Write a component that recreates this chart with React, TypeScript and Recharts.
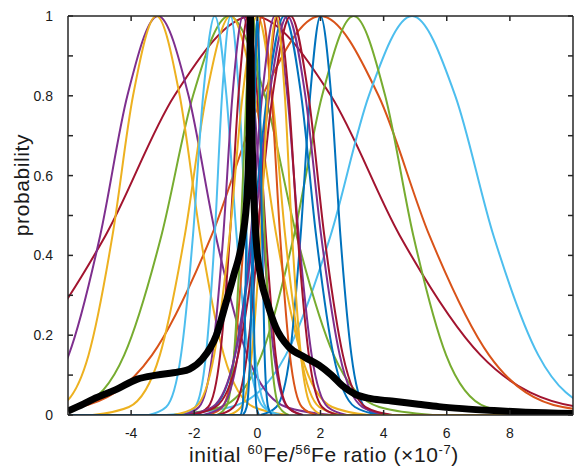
import { LineChart, Line, XAxis, YAxis } from "recharts"

// probability levels at which each curve is sampled (left tail -> peak -> right tail)
const levels = [0, 0.02, 0.15, 0.45, 0.8, 1, 0.8, 0.45, 0.15, 0.02, 0]

// x positions (x10^-7) where each curve crosses the levels above
const purpleLeft = [-8.66, -7.21, -5.98, -4.98, -4.12, -3.15, -2.18, -1.32, -0.32, 0.91, 2.36]
const goldLeft = [-7.38, -6.28, -5.35, -4.59, -3.94, -3.2, -2.46, -1.81, -1.06, -0.12, 0.98]
const redWide = [-14.21, -10.51, -7.37, -4.81, -2.63, -0.15, 2.33, 4.51, 7.07, 10.21, 13.91]
const greenWide = [-7.36, -5.66, -4.22, -3.04, -2.04, -0.9, 0.24, 1.24, 2.42, 3.86, 5.56]
const orangeWide = [-8.41, -5.67, -3.34, -1.45, 0.16, 2.0, 3.84, 5.45, 7.34, 9.67, 12.41]
const greenRight = [-2.65, -1.15, 0.13, 1.16, 2.05, 3.05, 4.05, 4.94, 5.98, 7.25, 8.75]
const skyRight = [-2.89, -0.84, 0.9, 2.32, 3.53, 4.9, 6.27, 7.48, 8.9, 10.64, 12.69]
const goldMid = [-5.22, -4.07, -3.09, -2.3, -1.62, -0.85, -0.08, 0.6, 1.39, 2.37, 3.52]
const blueTwo = [0.1, 0.6, 1.03, 1.37, 1.67, 2.0, 2.34, 2.63, 2.98, 3.4, 3.9]
const skyA = [-3.44, -2.89, -2.42, -2.04, -1.72, -1.35, -0.98, -0.66, -0.28, 0.19, 0.74]
const skyB = [-2.37, -1.97, -1.63, -1.35, -1.12, -0.85, -0.58, -0.35, -0.07, 0.27, 0.67]
const purpleA = [-2.35, -1.85, -1.43, -1.08, -0.79, -0.45, -0.12, 0.18, 0.53, 0.95, 1.45]
const redA = [-2.01, -1.56, -1.18, -0.87, -0.6, -0.3, 0.0, 0.27, 0.58, 0.96, 1.41]
const goldZero = [-2.66, -1.96, -1.37, -0.88, -0.47, 0, 0.47, 0.88, 1.37, 1.96, 2.66]
const orangeA = [-1.56, -1.11, -0.73, -0.42, -0.15, 0.15, 0.45, 0.72, 1.03, 1.41, 1.86]
const greenA = [-1.29, -0.99, -0.74, -0.53, -0.35, -0.15, 0.05, 0.23, 0.44, 0.69, 0.99]
const purpleB = [-1.73, -1.13, -0.62, -0.21, 0.15, 0.55, 0.95, 1.31, 1.72, 2.23, 2.83]
const redB = [-1.25, -0.75, -0.33, 0.02, 0.32, 0.65, 0.99, 1.28, 1.63, 2.05, 2.55]
const blueB = [-2.19, -1.39, -0.71, -0.16, 0.31, 0.85, 1.39, 1.86, 2.41, 3.09, 3.89]
const purpleC = [-2.28, -1.43, -0.71, -0.12, 0.38, 0.95, 1.52, 2.02, 2.61, 3.33, 4.18]
const redC = [-2.18, -1.33, -0.61, -0.02, 0.48, 1.05, 1.62, 2.12, 2.71, 3.43, 4.28]
const goldB = [-0.92, -0.52, -0.18, 0.1, 0.33, 0.6, 0.87, 1.1, 1.38, 1.72, 2.12]
const blueSpike = [-0.55, -0.47, -0.41, -0.35, -0.3, -0.25, -0.2, -0.15, -0.09, -0.03, 0.05]
const blueZero = [-0.46, -0.34, -0.23, -0.15, -0.08, 0, 0.08, 0.15, 0.23, 0.34, 0.46]

// combined distribution (thick black)
const sumX = [-6, -5.5, -5.2, -4.5, -3.8, -3.2, -2.5, -2.15, -1.75, -1.3, -1.0, -0.75, -0.48, -0.32, -0.25, -0.22, -0.18, -0.12, -0.04, 0.12, 0.32, 0.58, 1.0, 1.5, 1.95, 2.35, 2.7, 3.1, 3.6, 4.25, 5.1, 5.75, 6.5, 7.5, 8.5, 10]
const sumY = [0.01, 0.028, 0.04, 0.063, 0.09, 0.1, 0.108, 0.115, 0.14, 0.2, 0.28, 0.35, 0.44, 0.56, 0.75, 1.0, 0.75, 0.56, 0.44, 0.34, 0.28, 0.22, 0.17, 0.145, 0.125, 0.1, 0.073, 0.052, 0.041, 0.035, 0.027, 0.021, 0.016, 0.011, 0.007, 0.004]

const xTicks = [-4, -2, 0, 2, 4, 6, 8]
const yTicks = [0, 0.1, 0.2, 0.3, 0.4, 0.5, 0.6, 0.7, 0.8, 0.9, 1]
const yLabels = ["0", "", "0.2", "", "0.4", "", "0.6", "", "0.8", "", "1"]

const BLUE = "#0072BD"
const ORANGE = "#D95319"
const GOLD = "#EDB120"
const PURPLE = "#7E2F8E"
const GREEN = "#77AC30"
const SKY = "#4DBEEE"
const RED = "#A2142F"

const curves = [
  { xs: redWide, color: RED },
  { xs: orangeWide, color: ORANGE },
  { xs: skyRight, color: SKY },
  { xs: greenRight, color: GREEN },
  { xs: greenWide, color: GREEN },
  { xs: purpleLeft, color: PURPLE },
  { xs: goldLeft, color: GOLD },
  { xs: goldMid, color: GOLD },
  { xs: blueTwo, color: BLUE },
  { xs: skyA, color: SKY },
  { xs: skyB, color: SKY },
  { xs: purpleA, color: PURPLE },
  { xs: redA, color: RED },
  { xs: goldZero, color: GOLD },
  { xs: orangeA, color: ORANGE },
  { xs: greenA, color: GREEN },
  { xs: purpleB, color: PURPLE },
  { xs: redB, color: RED },
  { xs: blueB, color: BLUE },
  { xs: purpleC, color: PURPLE },
  { xs: redC, color: RED },
  { xs: goldB, color: GOLD, tailTo: 10 },
  { xs: blueSpike, color: BLUE, tailFrom: -6 },
  { xs: blueZero, color: BLUE },
]

const curveData = curves.map((c) => {
  const pts = c.xs.map((x, i) => ({ x, y: levels[i] }))
  if (c.tailFrom !== undefined) pts.unshift({ x: c.tailFrom, y: 0 })
  if (c.tailTo !== undefined) pts.push({ x: c.tailTo, y: 0 })
  return { ...c, pts }
})
const sumData = sumX.map((x, i) => ({ x, y: sumY[i] }))

const AXIS = "#262626"
const FONT = "'Liberation Sans', Arial, sans-serif"

const BottomTick = (p: any) => (
  <g>
    <line x1={p.x} x2={p.x} y1={p.y} y2={p.y - 5} stroke={AXIS} strokeWidth={1.5} />
    <text x={p.x} y={p.y + 23} textAnchor="middle" fontSize={14} fontFamily={FONT} fill="#1a1a1a">
      {p.payload.value}
    </text>
  </g>
)
const TopTick = (p: any) => (
  <line x1={p.x} x2={p.x} y1={p.y} y2={p.y + 5} stroke={AXIS} strokeWidth={1.5} />
)
const LeftTick = (p: any) => (
  <g>
    <line x1={p.x} x2={p.x + 5} y1={p.y} y2={p.y} stroke={AXIS} strokeWidth={1.5} />
    <text x={p.x - 15} y={p.y + 5} textAnchor="end" fontSize={14} fontFamily={FONT} fill="#1a1a1a">
      {yLabels[p.index]}
    </text>
  </g>
)
const RightTick = (p: any) => (
  <line x1={p.x} x2={p.x - 5} y1={p.y} y2={p.y} stroke={AXIS} strokeWidth={1.5} />
)

export default function App() {
  return (
    <div style={{ position: "absolute", left: 0, top: 0, width: 574, height: 467, background: "#fff" }}>
      <LineChart width={574} height={467} margin={{ top: 15, right: 0, bottom: 0, left: 0 }}>
        <XAxis
          dataKey="x"
          type="number"
          domain={[-6, 10]}
          ticks={xTicks}
          interval={0}
          allowDataOverflow
          height={52}
          tickSize={0}
          tickMargin={0}
          tickLine={false}
          axisLine={{ stroke: AXIS, strokeWidth: 1.5 }}
          tick={BottomTick}
        />
        <XAxis
          xAxisId="top"
          orientation="top"
          dataKey="x"
          type="number"
          domain={[-6, 10]}
          ticks={xTicks}
          interval={0}
          allowDataOverflow
          height={1}
          tickSize={0}
          tickMargin={0}
          tickLine={false}
          axisLine={{ stroke: AXIS, strokeWidth: 1.5 }}
          tick={TopTick}
        />
        <YAxis
          type="number"
          domain={[0, 1]}
          ticks={yTicks}
          interval={0}
          allowDataOverflow
          width={68}
          tickSize={0}
          tickMargin={0}
          tickLine={false}
          axisLine={{ stroke: AXIS, strokeWidth: 1.5 }}
          tick={LeftTick}
        />
        <YAxis
          yAxisId="right"
          orientation="right"
          type="number"
          domain={[0, 1]}
          ticks={yTicks}
          interval={0}
          allowDataOverflow
          width={1}
          tickSize={0}
          tickMargin={0}
          tickLine={false}
          axisLine={{ stroke: AXIS, strokeWidth: 1.5 }}
          tick={RightTick}
        />
        {curveData.map((c, i) => (
          <Line
            key={i}
            data={c.pts}
            dataKey="y"
            type="monotone"
            stroke={c.color}
            strokeWidth={2}
            dot={false}
            activeDot={false}
            isAnimationActive={false}
          />
        ))}
        <Line
          data={sumData}
          dataKey="y"
          type="monotone"
          stroke="#000"
          strokeWidth={7}
          strokeLinejoin="round"
          dot={false}
          activeDot={false}
          isAnimationActive={false}
        />
      </LineChart>
      <div
        style={{
          position: "absolute",
          left: 189,
          top: 444,
          fontFamily: FONT,
          fontSize: 21,
          lineHeight: "21px",
          letterSpacing: 0.6,
          whiteSpace: "nowrap",
          color: "#1a1a1a",
        }}
      >
        initial <span style={{ fontSize: 13, position: "relative", top: -8 }}>60</span>Fe/
        <span style={{ fontSize: 13, position: "relative", top: -8 }}>56</span>Fe ratio (×10
        <span style={{ fontSize: 13, position: "relative", top: -8 }}>-7</span>)
      </div>
      <div
        style={{
          position: "absolute",
          left: 21,
          top: 185,
          transform: "translate(-50%, -50%) rotate(-90deg)",
          fontFamily: FONT,
          fontSize: 21,
          lineHeight: "21px",
          letterSpacing: 0.6,
          whiteSpace: "nowrap",
          color: "#1a1a1a",
        }}
      >
        probability
      </div>
    </div>
  )
}
